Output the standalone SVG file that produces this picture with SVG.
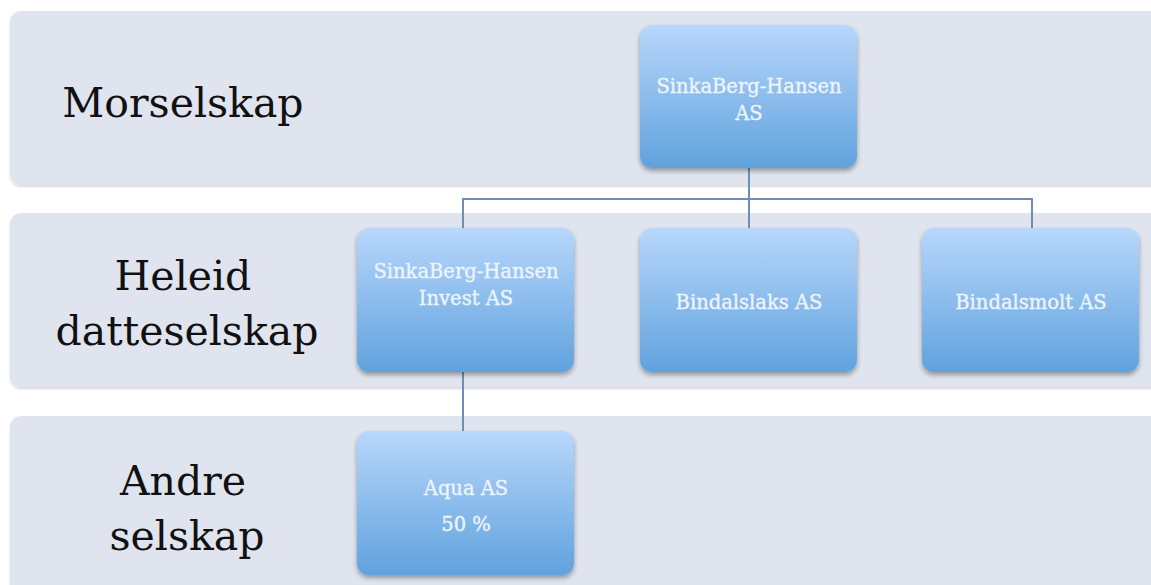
<svg xmlns="http://www.w3.org/2000/svg" width="1151" height="585" viewBox="0 0 1151 585">
<defs>
<linearGradient id="ng" x1="0" y1="0" x2="0" y2="1">
<stop offset="0" stop-color="#b8d7fc"/>
<stop offset="1" stop-color="#60a2dd"/>
</linearGradient>
<filter id="sh" x="-10%" y="-10%" width="120%" height="130%">
<feGaussianBlur in="SourceAlpha" stdDeviation="2.5"/>
<feOffset dy="3" result="b"/>
<feComponentTransfer><feFuncA type="linear" slope="0.35"/></feComponentTransfer>
<feMerge><feMergeNode/><feMergeNode in="SourceGraphic"/></feMerge>
</filter>
<filter id="bsh" x="-5%" y="-10%" width="110%" height="130%">
<feGaussianBlur in="SourceAlpha" stdDeviation="1"/>
<feOffset dy="1.5"/>
<feComponentTransfer><feFuncA type="linear" slope="0.15"/></feComponentTransfer>
<feMerge><feMergeNode/><feMergeNode in="SourceGraphic"/></feMerge>
</filter>
</defs>
<style>
.band{fill:#dfe4ef;filter:url(#bsh)}
.lbl{font-family:"DejaVu Serif","Liberation Serif",serif;font-size:41px;fill:#111;text-anchor:middle}
.node{fill:url(#ng);filter:url(#sh)}
.nt{font-family:"DejaVu Serif","Liberation Serif",serif;font-size:19.5px;fill:#eef4fc;stroke:#eef4fc;stroke-width:0.35;text-anchor:middle}
.con{stroke:#6b8fb8;stroke-width:2;fill:none}
</style>
<rect width="1151" height="585" fill="#ffffff"/>
<g id="bands">
<rect class="band" x="10" y="11" width="1160" height="174" rx="11"/>
<rect class="band" x="10" y="213" width="1160" height="174" rx="11"/>
<rect class="band" x="10" y="416" width="1160" height="180" rx="11"/>
<text class="lbl" x="183" y="117">Morselskap</text>
<text class="lbl" x="183" y="290">Heleid</text>
<text class="lbl" x="187" y="345">datteselskap</text>
<text class="lbl" x="183" y="495">Andre</text>
<text class="lbl" x="187" y="550">selskap</text>
</g>
<g id="connectors">
<path class="con" d="M749 168 V199 M463 228 V199 H1032 V228 M749 199 V228 M463 372 V431"/>
</g>
<g id="n1">
<rect class="node" x="640" y="25" width="217" height="143" rx="12"/>
<text class="nt" x="749" y="93">SinkaBerg-Hansen</text>
<text class="nt" x="749" y="120">AS</text>
</g>
<g id="n2">
<rect class="node" x="357" y="228" width="217" height="144" rx="12"/>
<text class="nt" x="466" y="278">SinkaBerg-Hansen</text>
<text class="nt" x="466" y="305">Invest AS</text>
</g>
<g id="n3">
<rect class="node" x="640" y="228" width="217" height="144" rx="12"/>
<text class="nt" x="749" y="309">Bindalslaks AS</text>
</g>
<g id="n4">
<rect class="node" x="922" y="228" width="217" height="144" rx="12"/>
<text class="nt" x="1031" y="309">Bindalsmolt AS</text>
</g>
<g id="n5">
<rect class="node" x="357" y="431" width="217" height="144" rx="12"/>
<text class="nt" x="466" y="495">Aqua AS</text>
<text class="nt" x="466" y="531">50 %</text>
</g>
</svg>
